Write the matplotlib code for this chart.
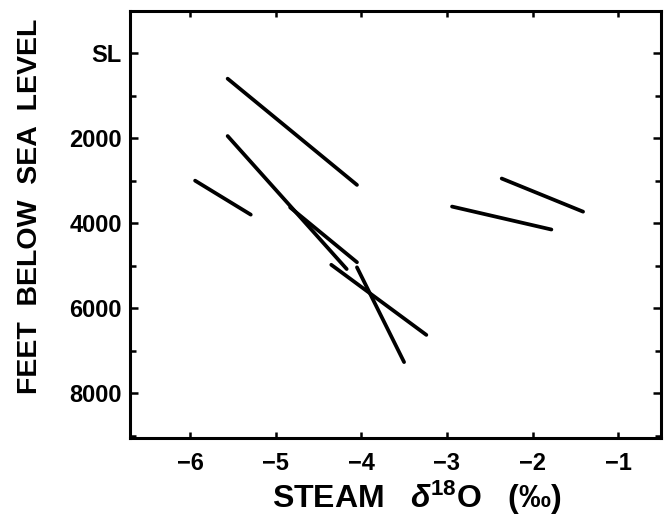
import matplotlib
matplotlib.use("Agg")
import matplotlib.pyplot as plt
from matplotlib.ticker import MultipleLocator, FixedLocator, FixedFormatter

# 井段蒸汽 δ18O 随深度变化（每条线段：起点/终点）
seg_x_start = [-5.56, -5.94, -5.56, -4.83, -4.35, -4.05, -2.36, -2.94]
seg_x_end = [-4.05, -5.29, -4.17, -4.05, -3.24, -3.50, -1.41, -1.78]
seg_depth_start = [600, 3000, 1950, 3630, 4980, 5040, 2950, 3610]
seg_depth_end = [3100, 3800, 5080, 4920, 6630, 7270, 3730, 4150]

x_ticks = [-6, -5, -4, -3, -2, -1]
x_tick_labels = ["\u22126", "\u22125", "\u22124", "\u22123", "\u22122", "\u22121"]
y_ticks = [0, 2000, 4000, 6000, 8000]
y_tick_labels = ["SL", "2000", "4000", "6000", "8000"]

label_font = ["Liberation Sans", "DejaVu Sans"]
tick_font = ["Liberation Sans", "DejaVu Sans"]

plt.rcParams["mathtext.fontset"] = "custom"
plt.rcParams["mathtext.rm"] = "Liberation Sans:bold"
plt.rcParams["mathtext.it"] = "Liberation Sans:italic:bold"
plt.rcParams["mathtext.bf"] = "Liberation Sans:bold"

fig = plt.figure(figsize=(6.65, 5.19), dpi=100)
ax = fig.add_axes([0.1955, 0.1566, 0.7985, 0.8228])

for xs, xe, ds, de in zip(seg_x_start, seg_x_end, seg_depth_start, seg_depth_end):
    ax.plot([xs, xe], [ds, de], color="black", linewidth=2.7, solid_capstyle="round")

ax.set_xlim(-6.7, -0.5)
ax.set_ylim(9050, -1000)

for sp in ax.spines.values():
    sp.set_linewidth(2.2)

ax.xaxis.set_major_locator(FixedLocator(x_ticks))
ax.xaxis.set_major_formatter(FixedFormatter(x_tick_labels))
ax.yaxis.set_major_locator(FixedLocator(y_ticks))
ax.yaxis.set_major_formatter(FixedFormatter(y_tick_labels))
ax.yaxis.set_minor_locator(MultipleLocator(1000))

ax.tick_params(axis="x", which="major", direction="in", length=4, width=1.8,
               top=True, bottom=True, pad=10)
ax.tick_params(axis="y", which="major", direction="in", length=6, width=1.8,
               left=True, right=True, pad=6)
ax.tick_params(axis="y", which="minor", direction="in", length=4.5, width=1.8,
               left=True, right=True)

for lab in ax.get_xticklabels() + ax.get_yticklabels():
    lab.set_fontfamily(tick_font)
    lab.set_fontweight("bold")
    lab.set_fontsize(17)

fig.text(0.045, 1 - 206 / 519, "FEET  BELOW  SEA  LEVEL", rotation=90,
         ha="center", va="center", fontsize=20.5, fontweight="bold",
         family=label_font)
fig.text(0.627, 1 - 498 / 519, "STEAM   $\\it{\\delta}$$^{18}$O   (\u2030)",
         ha="center", va="center", fontsize=23, fontweight="bold",
         family=label_font)

fig.savefig("out.png", dpi=100)
